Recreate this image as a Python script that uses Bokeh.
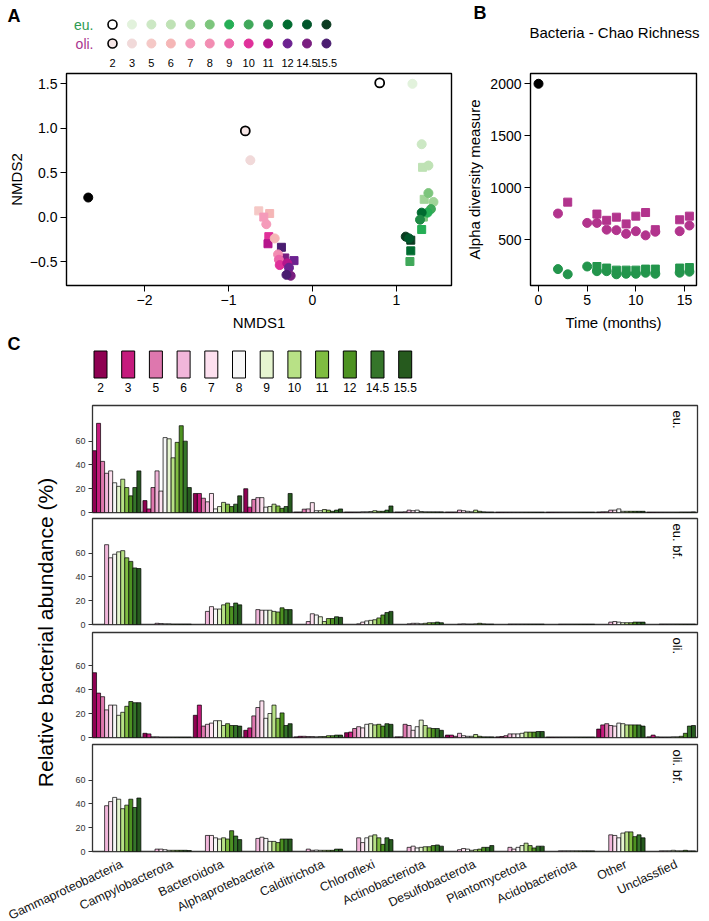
import math
from bokeh.plotting import figure
from bokeh.layouts import column, row
from bokeh.models import Range1d, FixedTicker, ColumnDataSource, Label
from bokeh.embed import file_html
from bokeh.resources import INLINE
from bokeh.core.properties import value

FONT = "Liberation Sans"

# ---------------- data ----------------
times = ["2", "3", "5", "6", "7", "8", "9", "10", "11", "12", "14.5", "15.5"]

# Panel A legend colours (eu. greens, oli. pinks/purples); first = open circle
eu_colors = ["#ffffff", "#e2f2dc", "#cce8c4", "#bfe2b5", "#a0d498", "#7cc57c",
             "#25ae55", "#40a85a", "#1f8a45", "#006b30", "#00552a", "#0b3b20"]
oli_colors = ["#f6e6e6", "#f1d9d9", "#f5c8c6", "#f5b6b6", "#f59bba", "#f28db2",
              "#ec66a9", "#e0309a", "#b5158c", "#6c2290", "#7a1e80", "#4a1d70"]

# Panel A: NMDS coordinates
t0_nmds1 = [-2.67]
t0_nmds2 = [0.22]
oli_circ_time = ["2", "3", "7", "6", "8", "9", "10", "11", "12", "14.5", "15.5"]
oli_circ_nmds1 = [-0.80, -0.74, -0.55, -0.45, -0.41, -0.40, -0.39, -0.30, -0.28, -0.26, -0.31]
oli_circ_nmds2 = [0.97, 0.64, -0.08, -0.24, -0.42, -0.48, -0.54, -0.52, -0.57, -0.66, -0.65]
oli_sq_time = ["5", "6", "7", "10", "11", "15.5", "14.5", "12"]
oli_sq_nmds1 = [-0.64, -0.51, -0.58, -0.52, -0.53, -0.37, -0.33, -0.22]
oli_sq_nmds2 = [0.07, 0.04, 0.00, -0.22, -0.30, -0.34, -0.46, -0.49]
eu_circ_time = ["2", "3", "5", "6", "8", "7", "10", "9", "12", "11", "15.5", "14.5"]
eu_circ_nmds1 = [0.80, 1.19, 1.30, 1.38, 1.38, 1.44, 1.41, 1.37, 1.30, 1.28, 1.11, 1.15]
eu_circ_nmds2 = [1.51, 1.50, 0.82, 0.58, 0.27, 0.17, 0.09, 0.05, 0.05, -0.03, -0.22, -0.24]
eu_sq_time = ["6", "7", "8", "9", "15.5", "12", "10"]
eu_sq_nmds1 = [1.31, 1.33, 1.32, 1.30, 1.17, 1.17, 1.16]
eu_sq_nmds2 = [0.56, 0.20, 0.00, -0.14, -0.26, -0.38, -0.50]

# Panel B: Chao richness
b_t0_time = [0]
b_t0_chao = [2000]
b_oli_circ_time = [2, 5, 6, 7, 8, 9, 10, 11, 12, 14.5, 15.5]
b_oli_circ_chao = [750, 660, 660, 595, 590, 555, 580, 540, 575, 580, 635]
b_oli_sq_time = [3, 6, 7, 8, 9, 10, 11, 12, 14.5, 15.5]
b_oli_sq_chao = [860, 745, 685, 715, 650, 725, 760, 595, 690, 725]
b_eu_circ_time = [2, 3, 5, 6, 7, 8, 9, 10, 11, 12, 14.5, 15.5]
b_eu_circ_chao = [215, 165, 240, 195, 195, 165, 170, 170, 180, 170, 180, 190]
b_eu_sq_time = [6, 7, 8, 9, 10, 11, 12, 14.5, 15.5]
b_eu_sq_chao = [240, 225, 205, 205, 205, 215, 215, 225, 230]

# Panel C
taxa = ["Gammaproteobacteria", "Campylobacterota", "Bacteroidota", "Alphaprotebacteria",
        "Calditrichota", "Chloroflexi", "Actinobacteriota", "Desulfobacterota",
        "Plantomycetota", "Acidobacteriota", "Other", "Unclassfied"]
bar_colors = ["#8e0152", "#c51b7d", "#de77ae", "#f1b6da", "#fde0ef", "#f7f7f7",
              "#e6f5d0", "#b8e186", "#7fbc41", "#4d9221", "#35752a", "#265a1e"]

eu_abund = [
    [52, 75, 43, 33, 35, 25, 22, 28, 21, 14, 21, 35],
    [10, 3, 21, 35, 18, 63, 62, 46, 59, 73, 60, 21],
    [16, 16, 12, 9, 16, 3, 5, 8.5, 7, 5, 7, 14],
    [20, 4.5, 11, 12.5, 12.5, 4.5, 5, 7, 5.5, 3.5, 5, 16],
    [0.3, 0.3, 2.8, 3, 8.3, 1.5, 1.5, 2.5, 2, 1, 2, 3],
    [0.3, 0.3, 0.3, 0.3, 0.5, 0.5, 0.8, 1.5, 1, 1, 2, 5.5],
    [0.3, 0.3, 0.5, 2, 1.5, 2, 0.8, 0.5, 0.5, 0.5, 0.5, 0.5],
    [0.3, 0.3, 0.3, 2, 1.5, 1, 0.5, 2, 1, 0.5, 0.3, 0.3],
    [0.2, 0.2, 0.2, 0.2, 0.2, 0.2, 0.2, 0.2, 0.2, 0.2, 0.2, 0.2],
    [0.2, 0.2, 0.2, 0.2, 0.2, 0.2, 0.2, 0.2, 0.2, 0.2, 0.2, 0.2],
    [0.3, 0.5, 0.5, 2, 2, 3, 1, 1, 1, 1, 1, 1],
    [0.2, 0.2, 0.2, 0.2, 0.2, 0.2, 0.2, 0.2, 0.3, 0.3, 0.3, 0.5],
]
eu_bf_abund = [
    [67, 56, 59, 61, 62, 56, 53, 47.5, 47],
    [1, 0.8, 0.5, 0.5, 0.3, 0.3, 0.3, 0.3, 0.3],
    [11, 15, 13, 13, 16.5, 18, 15, 18, 16.5],
    [12.5, 12, 12, 12, 11, 10.5, 14, 12.5, 12.5],
    [2.5, 9, 8, 6.5, 2.5, 5, 5, 6.5, 6],
    [0.5, 2, 3, 3.5, 4, 5.5, 8, 10, 11],
    [0.5, 1, 1, 0.5, 1, 1.5, 1.5, 2, 1.5],
    [0.3, 0.5, 0.3, 0.3, 0.5, 1, 0.5, 0.3, 0.3],
    [0.3, 0.3, 0.3, 0.3, 0.3, 0.3, 0.3, 0.3, 0.3],
    [0.2, 0.2, 0.2, 0.2, 0.2, 0.2, 0.2, 0.2, 0.2],
    [2, 2.5, 2, 1.5, 1.5, 1.5, 2, 2, 2],
    [0.3, 0.3, 0.3, 0.3, 0.3, 0.3, 0.3, 0.3, 0.3],
]
oli_abund = [
    [54, 37, 34, 23, 27, 27, 18.5, 21, 26, 30, 29, 29],
    [3.5, 3, 0.5, 0.5, 0.3, 0.3, 0.3, 0.3, 0.3, 0.3, 0.3, 0.3],
    [18.5, 27, 9.5, 11, 12, 14, 14, 10, 11.5, 10, 10, 9.5],
    [6, 8, 18, 25, 30.5, 16, 20, 27, 16, 20.5, 10, 11.5],
    [0.5, 1, 1, 0.8, 0.8, 0.5, 0.8, 0.8, 1.5, 1.5, 2, 2],
    [4, 4.5, 7.5, 9, 8, 11, 11.5, 10.5, 11, 9.5, 11.5, 11],
    [0.5, 0.5, 11, 10, 6, 9, 14.5, 10, 8, 7.5, 7.5, 6],
    [2, 2, 1, 3.5, 1.5, 1, 1, 2.5, 1, 0.5, 0.5, 0.5],
    [0.5, 0.8, 1.5, 3, 3, 3, 3.5, 4.5, 4.5, 4.5, 5, 5],
    [0.3, 0.3, 0.3, 0.3, 0.3, 0.3, 0.3, 0.3, 0.3, 0.3, 0.3, 0.3],
    [7, 10.5, 11.5, 10, 9.5, 12, 11.5, 10.5, 10.5, 10.5, 10.5, 9.5],
    [0.5, 2, 0.5, 0.3, 0.3, 0.3, 0.5, 0.5, 1, 3.5, 9.5, 10],
]
oli_bf_abund = [
    [38.5, 42, 45.5, 44, 36, 39, 44, 37, 45],
    [2, 2, 1.5, 1, 1, 1, 1, 1, 0.8],
    [13.5, 13.5, 11.5, 10.5, 11.5, 10.5, 17.5, 13, 10],
    [11, 12, 11, 8.5, 8.5, 7.5, 10.5, 10.5, 10.5],
    [2, 1, 1.2, 1, 1, 1, 1, 2, 2],
    [11.5, 7.5, 11.5, 13, 14, 11.5, 6, 11.5, 10],
    [3.5, 4.5, 3, 3.5, 4, 4, 5, 5.5, 4.5],
    [1.5, 2.5, 2, 1, 1.5, 2, 3.5, 3.5, 5],
    [3.5, 2, 3.5, 5, 7, 5, 3, 4.5, 4.5],
    [0.5, 0.5, 0.5, 0.5, 0.5, 0.5, 0.5, 0.5, 0.5],
    [14, 13.5, 11.5, 15.5, 16.5, 16.5, 12.5, 14, 11.5],
    [0.5, 0.5, 0.5, 1, 0.5, 0.5, 1, 0.5, 0.5],
]
panel_names = ["eu.", "eu. bf.", "oli.", "oli. bf."]

# ---------------- helpers ----------------
W = 709


def canvas(w, h):
    """Figure whose frame is the whole canvas, with pixel-like ranges (y down)."""
    p = figure(width=w, height=h, x_range=Range1d(0, w), y_range=Range1d(h, 0),
               output_backend="svg", toolbar_location=None,
               x_axis_location=None, y_axis_location=None,
               min_border_left=0, min_border_right=0, min_border_top=0, min_border_bottom=0)
    p.outline_line_color = None
    p.xgrid.visible = False
    p.ygrid.visible = False
    return p


def style_axis(ax, size="14px"):
    ax.axis_line_color = None
    ax.major_tick_out = 6
    ax.major_tick_in = 0
    ax.minor_tick_line_color = None
    ax.major_tick_line_color = "black"
    ax.major_label_text_font = FONT
    ax.major_label_text_font_size = size
    ax.major_label_text_color = "black"
    ax.major_label_standoff = 3
    ax.axis_label_text_font = FONT
    ax.axis_label_text_font_style = "normal"
    ax.axis_label_text_font_size = "15px"
    ax.axis_label_text_color = "black"


# ---------------- header for panels A and B ----------------
head = canvas(W, 70)
head.text(x=[7, 473], y=[15, 12], text=["A", "B"], text_font=value(FONT), text_font_size="18px",
          text_font_style="bold", text_baseline="middle", text_align="left")
head.text(x=[93, 93], y=[24, 43], text=["eu.", "oli."], text_color=["#2e9b52", "#a8328e"],
          text_font=value(FONT), text_font_size="14px", text_baseline="middle", text_align="right")
lx = [112 + 19.45 * i for i in range(len(times))]
head.scatter(x=lx, y=[24] * len(times), size=9, fill_color=eu_colors,
             line_color=["black"] + eu_colors[1:], line_width=[1.6] + [1] * 11)
head.scatter(x=lx, y=[43] * len(times), size=9, fill_color=oli_colors,
             line_color=["black"] + oli_colors[1:], line_width=[1.6] + [1] * 11)
head.text(x=lx, y=[62] * len(times), text=times, text_font=value(FONT), text_font_size="11px",
          text_baseline="middle", text_align="center")
head.text(x=[614], y=[32], text=["Bacteria - Chao Richness"], text_font=value(FONT),
          text_font_size="15px", text_baseline="middle", text_align="center")

# ---------------- Panel A ----------------
pA = figure(width=460, height=264, x_range=Range1d(-2.929, 1.655), y_range=Range1d(-0.770, 1.616),
            output_backend="svg", toolbar_location=None,
            min_border_left=66, min_border_right=9, min_border_top=3, min_border_bottom=49)
pA.grid.visible = False
pA.outline_line_color = "black"
pA.outline_line_width = 1.4
style_axis(pA.xaxis[0])
style_axis(pA.yaxis[0])
pA.xaxis.ticker = FixedTicker(ticks=[-2, -1, 0, 1])
pA.xaxis.major_label_overrides = {-2.0: "\u22122", -1.0: "\u22121", 0.0: "0", 1.0: "1"}
pA.yaxis.ticker = FixedTicker(ticks=[-0.5, 0, 0.5, 1.0, 1.5])
pA.yaxis.major_label_overrides = {-0.5: "\u22120.5", 0.0: "0.0", 0.5: "0.5", 1.0: "1.0", 1.5: "1.5"}
pA.xaxis.axis_label = "NMDS1"
pA.yaxis.axis_label = "NMDS2"
pA.xaxis.axis_label_standoff = 6
pA.yaxis.axis_label_standoff = 2


def tcol(palette, tlist):
    return [palette[times.index(t)] for t in tlist]


def tline(palette, tlist):
    return ["black" if t == "2" else palette[times.index(t)] for t in tlist]


def twidth(tlist):
    return [1.8 if t == "2" else 1 for t in tlist]


pA.scatter(t0_nmds1, t0_nmds2, marker="circle", size=9, fill_color="black", line_color="black")
pA.scatter(eu_sq_nmds1, eu_sq_nmds2, marker="square", size=8,
           fill_color=tcol(eu_colors, eu_sq_time), line_color=tcol(eu_colors, eu_sq_time))
pA.scatter(eu_circ_nmds1, eu_circ_nmds2, marker="circle", size=9,
           fill_color=tcol(eu_colors, eu_circ_time), line_color=tline(eu_colors, eu_circ_time),
           line_width=twidth(eu_circ_time))
pA.scatter(oli_sq_nmds1, oli_sq_nmds2, marker="square", size=8,
           fill_color=tcol(oli_colors, oli_sq_time), line_color=tcol(oli_colors, oli_sq_time))
pA.scatter(oli_circ_nmds1, oli_circ_nmds2, marker="circle", size=9,
           fill_color=tcol(oli_colors, oli_circ_time), line_color=tline(oli_colors, oli_circ_time),
           line_width=twidth(oli_circ_time))

# ---------------- Panel B ----------------
pB = figure(width=249, height=264, x_range=Range1d(-0.822, 16.23), y_range=Range1d(57, 2099),
            output_backend="svg", toolbar_location=None,
            min_border_left=70, min_border_right=13, min_border_top=3, min_border_bottom=49)
pB.grid.visible = False
pB.outline_line_color = "black"
pB.outline_line_width = 1.4
style_axis(pB.xaxis[0])
style_axis(pB.yaxis[0])
pB.xaxis.ticker = FixedTicker(ticks=[0, 5, 10, 15])
pB.yaxis.ticker = FixedTicker(ticks=[500, 1000, 1500, 2000])
pB.xaxis.axis_label = "Time (months)"
pB.yaxis.axis_label = "Alpha diversity measure"
pB.xaxis.axis_label_standoff = 6
pB.yaxis.axis_label_standoff = 4
OLI_B = "#b2348d"
EU_B = "#23954c"
pB.scatter(b_t0_time, b_t0_chao, marker="circle", size=9, color="black")
pB.scatter(b_oli_circ_time, b_oli_circ_chao, marker="circle", size=9, color=OLI_B)
pB.scatter(b_oli_sq_time, b_oli_sq_chao, marker="square", size=8, color=OLI_B)
pB.scatter(b_eu_circ_time, b_eu_circ_chao, marker="circle", size=9, color=EU_B)
pB.scatter(b_eu_sq_time, b_eu_sq_chao, marker="square", size=8, color=EU_B)

# ---------------- Panel C legend ----------------
legC = canvas(W, 66)
legC.text(x=[7], y=[9], text=["C"], text_font=value(FONT), text_font_size="18px",
          text_font_style="bold", text_baseline="middle", text_align="left")
cx = [100 + 27.7 * i for i in range(len(times))]
legC.rect(x=cx, y=[30] * len(times), width=13, height=27, fill_color=bar_colors,
          line_color="black", line_width=1)
legC.text(x=cx, y=[53] * len(times), text=times, text_font=value(FONT), text_font_size="12px",
          text_baseline="middle", text_align="center")

# ---------------- Panel C bars ----------------
GROUP = 12.5
NSLOT = len(times)


def bar_fig(vals, first_slot, ymax, h, top, bottom, name):
    p = figure(width=W - 60, height=h, x_range=Range1d(0, 150), y_range=Range1d(0, ymax),
               output_backend="svg", toolbar_location=None, x_axis_location=None,
               min_border_left=32, min_border_right=12, min_border_top=top, min_border_bottom=bottom)
    p.grid.visible = False
    p.outline_line_color = "#333333"
    p.outline_line_width = 1.3
    ax = p.yaxis[0]
    ax.ticker = FixedTicker(ticks=[0, 20, 40, 60])
    ax.axis_line_color = None
    ax.major_tick_out = 4
    ax.major_tick_in = 0
    ax.minor_tick_line_color = None
    ax.major_tick_line_color = "#333333"
    ax.major_label_text_font = FONT
    ax.major_label_text_font_size = "9px"
    ax.major_label_text_color = "#333333"
    ax.major_label_standoff = 3
    xs, tops, cols = [], [], []
    for g, gv in enumerate(vals):
        for s, v in enumerate(gv):
            slot = first_slot + s
            xs.append(g * GROUP + slot + 0.5)
            tops.append(v)
            cols.append(bar_colors[slot])
    src = ColumnDataSource(dict(x=xs, top=tops, color=cols))
    p.vbar(x="x", top="top", bottom=0, width=1, fill_color="color", line_color="black",
           line_width=0.7, source=src)
    p.add_layout(Label(x=150 - 20 * 150 / 605, y=ymax - 5 * ymax / (h - top - bottom), text=name,
                       angle=-math.pi / 2, text_align="left", text_baseline="middle",
                       text_font=FONT, text_font_size="13px", text_color="black"))
    return p


f_eu = bar_fig(eu_abund, 0, 90, 116, 5, 4, panel_names[0])
f_eubf = bar_fig(eu_bf_abund, 3, 89, 112, 2, 4, panel_names[1])
f_oli = bar_fig(oli_abund, 0, 87.5, 113, 4, 4, panel_names[2])
f_olibf = bar_fig(oli_bf_abund, 3, 90, 114, 3, 4, panel_names[3])

ylab = canvas(60, 455)
ylab.text(x=[45], y=[232], text=["Relative bacterial abundance (%)"], angle=math.pi / 2,
          text_font=value(FONT), text_font_size="21px", text_align="center",
          text_baseline="middle")

# category labels strip
xl0 = -92 * 150 / 605
xl1 = (W - 92) * 150 / 605
labs = figure(width=W, height=66, x_range=Range1d(xl0, xl1), y_range=Range1d(66, 0),
              output_backend="svg", toolbar_location=None,
              x_axis_location=None, y_axis_location=None,
              min_border_left=0, min_border_right=0, min_border_top=0, min_border_bottom=0)
labs.outline_line_color = None
labs.xgrid.visible = False
labs.ygrid.visible = False
centers = [g * GROUP + NSLOT / 2 + 1.3 for g in range(len(taxa))]
labs.text(x=centers, y=[8] * len(taxa), text=taxa, angle=25 * math.pi / 180,
          text_font=value(FONT), text_font_size="12.5px", text_align="right",
          text_baseline="middle", text_color="#111111")

layout = column(
    head,
    row(pA, pB),
    legC,
    row(ylab, column(f_eu, f_eubf, f_oli, f_olibf)),
    labs,
)

open("out.html", "w").write(file_html(layout, INLINE))
